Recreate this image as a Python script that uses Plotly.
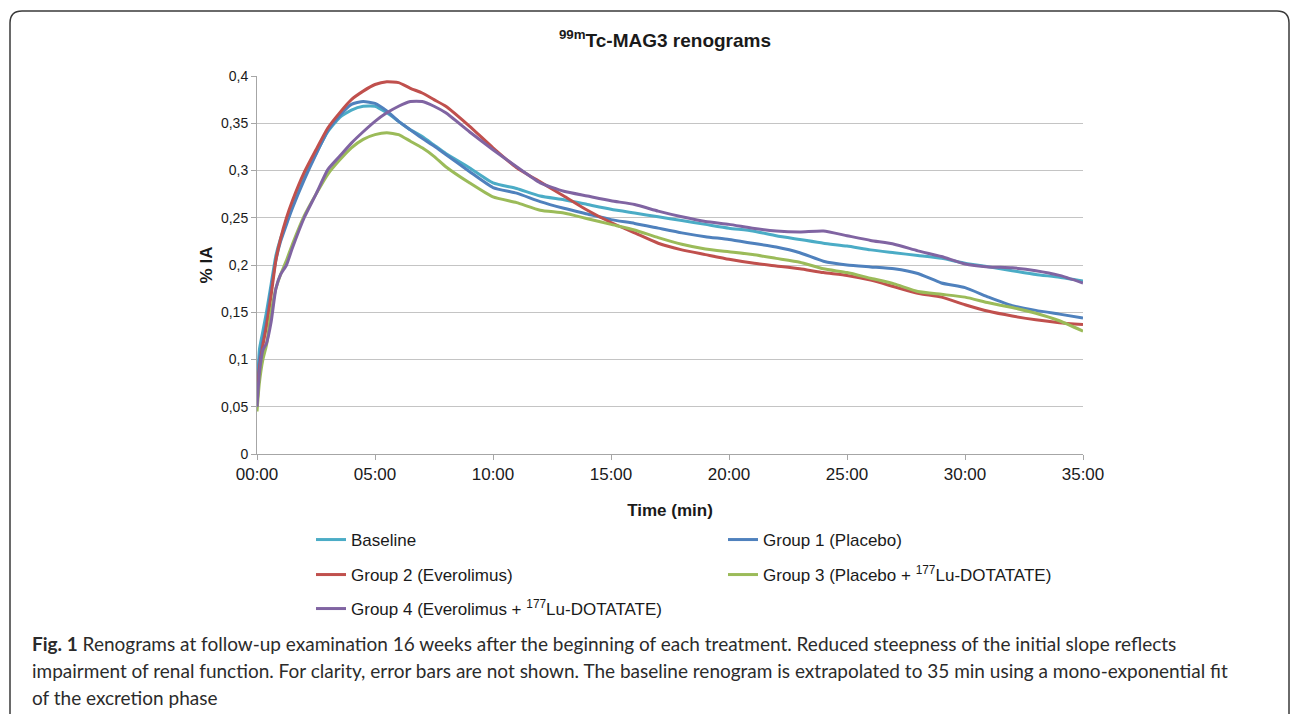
import plotly.graph_objects as go

# ---------------- data ----------------
time_min = [0, 0.1, 0.25, 0.4, 0.6, 0.8, 1.0, 1.25, 1.5, 2.0, 2.5, 3.0, 3.5, 4.0, 4.5,
            5.0, 5.5, 6.0, 6.5, 7.0, 7.5, 8.0, 9, 10, 11, 12, 13, 14, 15, 16, 17, 18,
            19, 20, 21, 22, 23, 24, 25, 26, 27, 28, 29, 30, 31, 32, 33, 34, 35]

baseline = [0.05, 0.11, 0.13, 0.15, 0.18, 0.21, 0.228, 0.245, 0.262, 0.293, 0.318, 0.341,
            0.356, 0.364, 0.368, 0.368, 0.361, 0.352, 0.343, 0.336, 0.327, 0.318, 0.303,
            0.287, 0.281, 0.273, 0.269, 0.264, 0.259, 0.255, 0.251, 0.247, 0.243, 0.239,
            0.236, 0.231, 0.227, 0.223, 0.220, 0.216, 0.213, 0.210, 0.207, 0.202, 0.198,
            0.194, 0.190, 0.187, 0.183]

group1 = [0.05, 0.10, 0.12, 0.14, 0.175, 0.205, 0.225, 0.243, 0.26, 0.29, 0.317, 0.342,
          0.358, 0.370, 0.373, 0.371, 0.363, 0.352, 0.343, 0.334, 0.326, 0.317, 0.299,
          0.282, 0.276, 0.267, 0.260, 0.254, 0.248, 0.244, 0.239, 0.234, 0.230, 0.227,
          0.223, 0.219, 0.213, 0.204, 0.200, 0.198, 0.196, 0.191, 0.181, 0.176, 0.166,
          0.157, 0.152, 0.148, 0.144]

group2 = [0.05, 0.09, 0.115, 0.135, 0.168, 0.205, 0.228, 0.25, 0.268, 0.298, 0.322, 0.345,
          0.361, 0.375, 0.384, 0.391, 0.394, 0.393, 0.387, 0.382, 0.375, 0.368, 0.347,
          0.324, 0.303, 0.288, 0.273, 0.258, 0.245, 0.234, 0.223, 0.216, 0.211, 0.206,
          0.202, 0.199, 0.196, 0.192, 0.189, 0.184, 0.177, 0.170, 0.166, 0.158, 0.151,
          0.146, 0.142, 0.139, 0.137]

group3 = [0.045, 0.075, 0.10, 0.115, 0.15, 0.175, 0.19, 0.205, 0.222, 0.252, 0.275, 0.296,
          0.311, 0.324, 0.333, 0.338, 0.340, 0.338, 0.331, 0.324, 0.315, 0.304, 0.287,
          0.272, 0.266, 0.258, 0.255, 0.249, 0.243, 0.237, 0.229, 0.222, 0.217, 0.214,
          0.211, 0.207, 0.203, 0.196, 0.192, 0.186, 0.180, 0.172, 0.169, 0.166, 0.160,
          0.155, 0.149, 0.141, 0.130]

group4 = [0.05, 0.085, 0.11, 0.117, 0.14, 0.175, 0.19, 0.20, 0.218, 0.25, 0.275, 0.301,
          0.315, 0.329, 0.341, 0.352, 0.361, 0.368, 0.373, 0.373, 0.368, 0.361, 0.341,
          0.322, 0.304, 0.287, 0.278, 0.273, 0.268, 0.264, 0.257, 0.251, 0.246, 0.243,
          0.239, 0.236, 0.235, 0.236, 0.231, 0.226, 0.222, 0.215, 0.209, 0.201, 0.198,
          0.197, 0.194, 0.189, 0.181]

series_names = ["Baseline", "Group 1 (Placebo)", "Group 2 (Everolimus)",
                "Group 3 (Placebo + <sup>177</sup>Lu-DOTATATE)",
                "Group 4 (Everolimus + <sup>177</sup>Lu-DOTATATE)"]
series_values = [baseline, group1, group2, group3, group4]
series_colors = ["#4bacc6", "#4f81bd", "#c0504d", "#9bbb59", "#8064a2"]
series_legend = ["legend", "legend", "legend2", "legend2", "legend3"]

x_tickvals = [0, 5, 10, 15, 20, 25, 30, 35]
x_ticktext = ["00:00", "05:00", "10:00", "15:00", "20:00", "25:00", "30:00", "35:00"]
y_tickvals = [0, 0.05, 0.1, 0.15, 0.2, 0.25, 0.3, 0.35, 0.4]
y_ticktext = ["0", "0,05", "0,1", "0,15", "0,2", "0,25", "0,3", "0,35", "0,4"]

caption_lines = [
    "<b>Fig. 1</b> Renograms at follow-up examination 16 weeks after the beginning of each treatment. Reduced steepness of the initial slope reflects",
    "impairment of renal function. For clarity, error bars are not shown. The baseline renogram is extrapolated to 35 min using a mono-exponential fit",
    "of the excretion phase",
]

# ---------------- layout geometry ----------------
W, H = 1290, 714
L, R, T, B = 257, 1083, 76, 454
PW, PH = R - L, B - T
FONT = "Liberation Sans, Arial, sans-serif"


def px(X):
    return (X - L) / PW


def py(Y):
    return (B - Y) / PH


fig = go.Figure()
for name, vals, col, lg in zip(series_names, series_values, series_colors, series_legend):
    fig.add_trace(go.Scatter(
        x=time_min, y=vals, name=name, mode="lines",
        line=dict(color=col, width=3, shape="spline", smoothing=0.5),
        legend=lg,
    ))

legend_common = dict(
    orientation="h", xref="paper", yref="paper", xanchor="left", yanchor="middle",
    font=dict(family=FONT, size=17, color="#1a1a1a"),
    bgcolor="rgba(0,0,0,0)", entrywidth=367, entrywidthmode="pixels", itemwidth=30,
)

# rounded frame around the figure
fx0, fx1, fy0, fy1, rr = 10, 1289, 11, 740, 12
frame_path = (
    f"M {px(fx0)},{py(fy1)} L {px(fx0)},{py(fy0 + rr)} "
    f"Q {px(fx0)},{py(fy0)} {px(fx0 + rr)},{py(fy0)} "
    f"L {px(fx1 - rr)},{py(fy0)} Q {px(fx1)},{py(fy0)} {px(fx1)},{py(fy0 + rr)} "
    f"L {px(fx1)},{py(fy1)}"
)

annotations = []
for line, yc in zip(caption_lines, [643, 670, 697]):
    annotations.append(dict(
        text=line, xref="paper", yref="paper", x=px(30), y=py(yc),
        xanchor="left", yanchor="middle", showarrow=False, align="left",
        font=dict(family="Lato, 'Open Sans', sans-serif", size=19, color="#2b2b2b"),
    ))

fig.update_layout(
    width=W, height=H,
    margin=dict(l=L, r=W - R, t=T, b=H - B, pad=0),
    paper_bgcolor="white", plot_bgcolor="white",
    title=dict(
        text="<sup>99m</sup>Tc-MAG3 renograms",
        x=665 / W, xref="container", xanchor="center",
        y=1 - 40 / H, yref="container", yanchor="middle",
        font=dict(family=FONT, size=19, color="#1a1a1a", weight="bold"),
    ),
    xaxis=dict(
        range=[0, 35], tickvals=x_tickvals, ticktext=x_ticktext,
        showgrid=False, zeroline=False, showline=True, linecolor="#a6a6a6", linewidth=1,
        ticks="outside", ticklen=5, tickcolor="#a6a6a6", tickwidth=1,
        tickfont=dict(family=FONT, size=17, color="#1a1a1a"),
        title=dict(text="Time (min)", standoff=20,
                   font=dict(family=FONT, size=17, color="#1a1a1a", weight="bold")),
    ),
    yaxis=dict(
        range=[0, 0.4], tickvals=y_tickvals, ticktext=y_ticktext,
        showgrid=True, gridcolor="#c4c4c4", gridwidth=1, zeroline=False,
        showline=True, linecolor="#a6a6a6", linewidth=1,
        ticks="outside", ticklen=5, tickcolor="#a6a6a6", tickwidth=1,
        tickfont=dict(family=FONT, size=14, color="#1a1a1a"),
        title=dict(text="% IA", standoff=4,
                   font=dict(family=FONT, size=17, color="#1a1a1a", weight="bold")),
    ),
    legend=dict(x=px(311), y=py(540), **legend_common),
    legend2=dict(x=px(311), y=py(575), **legend_common),
    legend3=dict(x=px(311), y=py(609), **legend_common),
    shapes=[dict(type="path", path=frame_path, xref="paper", yref="paper",
                 line=dict(color="#3a3a3a", width=1.5), layer="above")],
    annotations=annotations,
)

fig.write_html("out.html", config={"displayModeBar": False},
               post_script="document.body.style.margin='0';")
